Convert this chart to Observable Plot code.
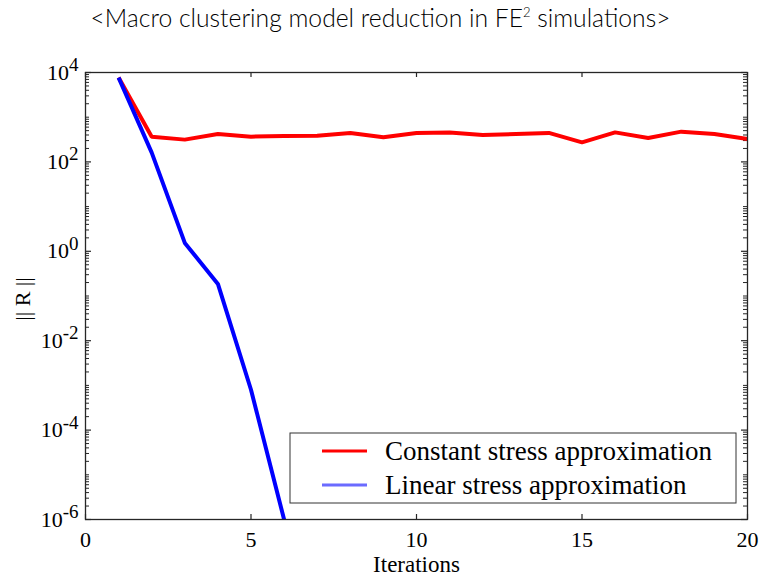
<!DOCTYPE html>
<html>
<head>
<meta charset="utf-8">
<script src="https://cdn.jsdelivr.net/npm/d3@7"></script>
<script src="https://cdn.jsdelivr.net/npm/@observablehq/plot@0.6"></script>
<style>
  html, body { margin: 0; padding: 0; background: #fff; }
  #title { height: 40px; width: 761px; box-sizing: border-box; padding-top: 3px; text-align: center;
           font-family: Lato, "Open Sans", sans-serif; font-size: 24.7px; font-weight: 300; color: #000; white-space: nowrap; }
  #title sup { font-size: 13px; vertical-align: 0; position: relative; top: -10px; }
</style>
</head>
<body>
<div id="title">&lt;Macro clustering model reduction in FE<sup>2</sup> simulations&gt;</div>
<div id="chart"></div>
<script>
// ---- data ----
const constIter = [1, 2, 3, 4, 5, 6, 7, 8, 9, 10, 11, 12, 13, 14, 15, 16, 17, 18, 19, 20];
const constResidual = [7700, 367, 315, 422, 367, 380, 386, 445, 355, 445, 457, 400, 422, 445, 274, 457, 344, 475, 422, 325];
const linearIter = [1, 2, 3, 4, 5, 6];
const linearResidual = [7700, 161, 1.54, 0.186, 8e-4, 1e-6];

const seriesNames = ["Constant stress approximation", "Linear stress approximation"];
const seriesColors = ["#ff0000", "#0000ff"];
const legendColors = ["#ff0000", "#6b6bff"];

const xTicks = [0, 5, 10, 15, 20];
const yLabelExps = [-6, -4, -2, 0, 2, 4];
const xLabel = "Iterations";
const yLabel = "|| R ||";

// ---- derived tables ----
const constData = constIter.map((x, i) => ({x, y: constResidual[i]}));
const linearData = linearIter.map((x, i) => ({x, y: linearResidual[i]}));
const yMajor = yLabelExps.map(e => Math.pow(10, e));
const yMinor = [];
for (let k = -6; k < 4; k++) {
  for (let m = 1; m <= 9; m++) {
    const v = m * Math.pow(10, k);
    if (!yMajor.some(t => Math.abs(t - v) / t < 1e-9)) yMinor.push(v);
  }
}

const W = 761, H = 539;
const mL = 85, mR = 14, mT = 32, mB = 60;
const pw = W - mL - mR, ph = H - mT - mB;
const axisColor = "#262626";
const serif = "Liberation Serif, Times New Roman, serif";

const chart = Plot.plot({
  width: W, height: H,
  marginLeft: mL, marginRight: mR, marginTop: mT, marginBottom: mB,
  style: {fontFamily: serif, fontSize: "22px", color: "#000", background: "#fff"},
  x: {domain: [0, 20]},
  y: {type: "log", domain: [1e-6, 1e4]},
  marks: [
    // inward ticks (bottom/top)
    Plot.ruleX(xTicks, {x: d => d, insetTop: ph - 5, stroke: axisColor, strokeWidth: 1.2}),
    Plot.ruleX(xTicks, {x: d => d, insetBottom: ph - 5, stroke: axisColor, strokeWidth: 1.2}),
    // inward ticks (left/right) major
    Plot.ruleY(yMajor, {y: d => d, insetRight: pw - 6, stroke: axisColor, strokeWidth: 1.2}),
    Plot.ruleY(yMajor, {y: d => d, insetLeft: pw - 6, stroke: axisColor, strokeWidth: 1.2}),
    // minor
    Plot.ruleY(yMinor, {y: d => d, insetRight: pw - 4, stroke: axisColor, strokeWidth: 1}),
    Plot.ruleY(yMinor, {y: d => d, insetLeft: pw - 4, stroke: axisColor, strokeWidth: 1}),
    Plot.axisX({ticks: xTicks, tickSize: 0, tickPadding: 12, label: null, fontSize: 22, fontFamily: serif}),
    Plot.axisY({ticks: yMajor, tickSize: 0, tickPadding: 7, label: null, fontSize: 22, fontFamily: serif,
                tickFormat: d => "10^" + Math.round(Math.log10(d))}),
    Plot.text([xLabel], {frameAnchor: "bottom", lineAnchor: "middle", textAnchor: "middle", dy: 45, fontSize: 23, fontFamily: serif, fill: "#000"}),
    Plot.text([yLabel], {frameAnchor: "left", lineAnchor: "middle", textAnchor: "middle", dx: -63, dy: 3, rotate: -90, fontSize: 22, fontFamily: serif, fill: "#000"}),
    Plot.line(constData, {x: "x", y: "y", stroke: seriesColors[0], strokeWidth: 4, strokeLinecap: "butt", strokeLinejoin: "miter"}),
    Plot.line(linearData, {x: "x", y: "y", stroke: seriesColors[1], strokeWidth: 4, strokeLinecap: "butt", strokeLinejoin: "miter"}),
    Plot.frame({stroke: axisColor, strokeWidth: 1.3})
  ]
});

// superscript exponents on the y tick labels
d3.select(chart).selectAll('g[aria-label="y-axis tick label"] text').each(function() {
  const t = d3.select(this);
  const s = t.text();
  const exp = s.split("^")[1];
  t.text(null);
  t.append("tspan").text("10");
  t.append("tspan").attr("dy", "-0.45em").attr("font-size", "19px").text(exp);
});

// legend box (inset, bottom-right of the frame)
const svg = d3.select(chart);
const bx1 = W - mR - 11, by2 = H - mB - 16;
const bx0 = 290, by1 = by2 - 70;
const lg = svg.append("g").attr("aria-label", "legend").attr("text-anchor", "start");
lg.append("rect").attr("x", bx0).attr("y", by1).attr("width", bx1 - bx0).attr("height", by2 - by1)
  .attr("fill", "#fff").attr("stroke", "#333").attr("stroke-width", 1);
seriesNames.forEach((name, i) => {
  const cy = by1 + 18 + i * 34;
  lg.append("line").attr("x1", bx0 + 32).attr("x2", bx0 + 77).attr("y1", cy).attr("y2", cy)
    .attr("stroke", legendColors[i]).attr("stroke-width", 3);
  lg.append("text").attr("x", bx0 + 95).attr("y", cy).attr("dy", "0.35em").attr("text-anchor", "start")
    .attr("font-family", serif).attr("font-size", 27).attr("fill", "#000").text(name);
});

document.getElementById("chart").appendChild(chart);
</script>
</body>
</html>
